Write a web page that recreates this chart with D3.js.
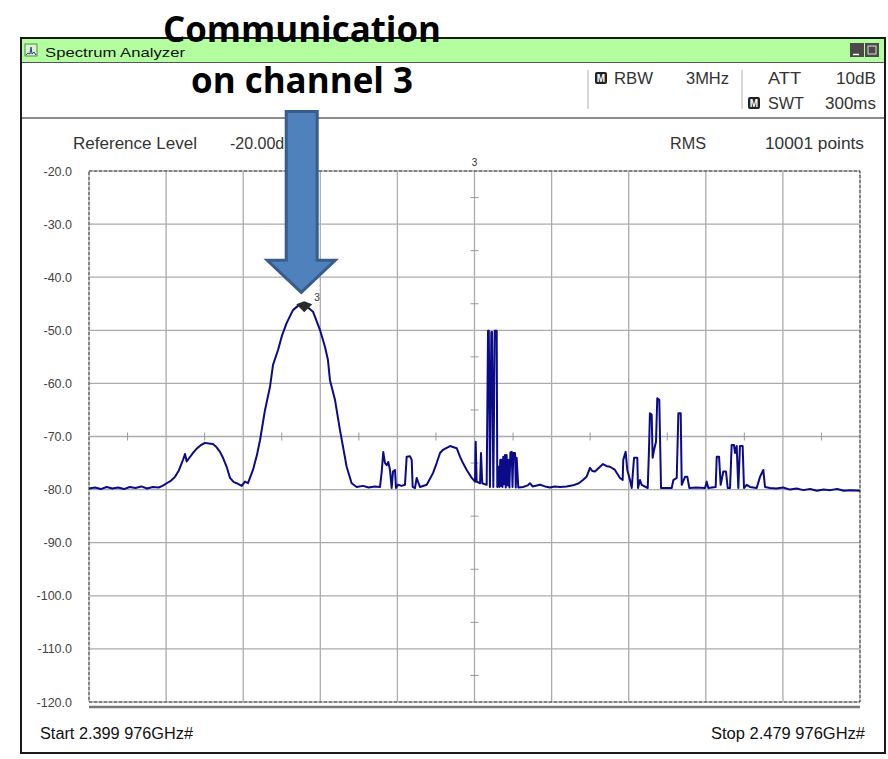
<!DOCTYPE html>
<html><head><meta charset="utf-8">
<script src="https://cdn.jsdelivr.net/npm/d3@7"></script>
<style>body{margin:0;background:#fff;} svg{display:block;font-family:"Liberation Sans",Arial,sans-serif;}</style>
</head><body><svg id="c" width="888" height="759"></svg>
<script>
// ---- Data ----
const traceFreqMHz = [
2399.98,2400.6,2401.2,2401.8,2402.4,2403.0,2403.6,2404.2,2404.8,2405.4,2406.0,2406.6,2407.2,2407.6,2408.04,2408.5,2408.9,2409.3,2409.73,2409.94,
2410.11,2410.4,2410.77,2411.2,2411.6,2412.01,2412.4,2412.84,2413.2,2413.57,2413.9,2414.26,2414.61,2415.0,2415.3,2415.82,2416.16,2416.47,2416.99,2417.4,
2417.72,2418.24,2418.76,2419.07,2419.59,2420.0,2420.49,2421.14,2421.66,2422.1,2422.57,2423.22,2423.94,2424.46,2424.77,2424.98,2425.5,2426.02,2426.71,2427.23,
2427.75,2428.4,2429.0,2429.6,2430.17,2430.35,2430.51,2430.69,2430.87,2431.03,2431.21,2431.38,2431.52,2431.73,2431.83,2432.04,2432.4,2432.76,2432.94,2433.28,
2433.46,2433.56,2433.8,2433.98,2434.11,2434.32,2435.02,2435.67,2436.05,2436.4,2436.71,2437.43,2438.13,2438.47,2438.78,2439.17,2439.69,2440.03,2440.1,2440.2,
2440.55,2440.65,2440.78,2441.24,2441.38,2441.46,2441.58,2441.72,2441.8,2441.93,2442.08,2442.28,2442.34,2442.45,2442.55,2442.65,2442.72,2442.8,2442.88,2442.96,
2443.04,2443.14,2443.22,2443.31,2443.4,2443.5,2443.6,2443.7,2443.84,2443.92,2444.0,2444.18,2444.26,2444.35,2444.52,2445.01,2445.5,2445.73,2446.0,2446.77,
2447.3,2447.81,2448.3,2448.85,2449.54,2450.2,2450.8,2451.23,2451.6,2451.96,2452.2,2452.48,2453.0,2453.31,2453.7,2454.04,2454.55,2455.07,2455.35,2455.41,
2455.66,2455.83,2456.11,2456.29,2456.53,2456.87,2456.94,2457.15,2457.32,2457.95,2458.08,2458.18,2458.36,2458.46,2458.6,2458.81,2458.94,2459.15,2459.33,2460.44,
2460.61,2460.96,2461.13,2461.37,2461.48,2461.82,2462.06,2462.27,2463.0,2463.9,2464.07,2464.24,2465.0,2465.11,2465.35,2465.52,2465.79,2466.07,2466.25,2466.49,
2466.66,2466.9,2467.01,2467.18,2467.35,2467.52,2467.8,2467.94,2468.22,2468.56,2469.26,2469.6,2469.94,2470.12,2470.64,2471.3,2472.0,2472.7,2473.4,2474.1,
2474.8,2475.5,2476.2,2476.9,2477.6,2478.3,2479.0,2479.98
];
const traceLevelDbm = [
-79.8,-79.6,-79.9,-79.5,-79.8,-79.6,-79.9,-79.5,-79.7,-79.4,-79.8,-79.5,-79.6,-79.3,-78.8,-78.3,-77.6,-76.4,-74.4,-73.3,
-74.7,-74.0,-73.1,-72.2,-71.6,-71.2,-71.3,-71.4,-72.0,-72.9,-74.1,-75.7,-77.8,-78.6,-78.8,-79.3,-78.5,-78.8,-76.3,-73.5,
-70.7,-65.0,-60.6,-56.5,-53.7,-51.0,-48.6,-46.2,-45.4,-45.3,-45.5,-46.5,-49.9,-53.1,-55.6,-59.4,-63.1,-68.8,-75.7,-78.8,
-79.5,-79.3,-79.6,-79.4,-79.5,-76.6,-72.9,-75.0,-75.4,-74.8,-76.3,-79.7,-76.6,-76.3,-79.7,-79.1,-79.3,-79.1,-73.8,-73.7,
-74.4,-79.5,-79.7,-77.8,-78.5,-79.5,-79.1,-76.9,-75.0,-73.1,-72.5,-71.8,-72.2,-73.8,-75.0,-76.3,-77.8,-78.5,-71.0,-78.5,
-78.8,-73.1,-78.8,-79.1,-50.1,-50.1,-79.5,-50.3,-50.3,-79.5,-50.1,-50.1,-79.5,-75.7,-79.5,-74.4,-79.3,-74.4,-79.5,-73.8,
-79.0,-73.5,-79.6,-73.5,-79.2,-74.4,-79.6,-73.0,-72.9,-79.5,-73.1,-73.1,-79.6,-74.0,-79.6,-79.5,-79.2,-78.8,-79.4,-79.1,
-79.4,-79.6,-79.4,-79.5,-79.4,-79.2,-78.8,-78.2,-77.6,-75.9,-76.5,-76.6,-75.7,-75.2,-75.6,-75.7,-76.3,-77.8,-78.2,-74.4,
-72.9,-76.3,-78.2,-79.7,-74.0,-74.0,-79.7,-78.2,-79.1,-79.7,-72.6,-65.6,-65.9,-74.0,-72.6,-71.0,-62.8,-63.1,-79.7,-79.7,
-78.2,-77.8,-65.6,-65.6,-79.1,-77.6,-77.6,-79.7,-79.6,-79.7,-78.5,-79.7,-79.5,-73.8,-73.8,-79.1,-76.6,-76.6,-79.7,-79.7,
-71.6,-71.6,-73.1,-71.8,-79.7,-71.8,-71.8,-79.7,-79.1,-79.5,-79.7,-77.6,-76.3,-79.5,-79.7,-79.8,-79.6,-80.0,-79.8,-80.1,
-79.9,-80.2,-80.0,-80.1,-79.9,-80.2,-80.1,-80.2
];
const yTicks = [-20,-30,-40,-50,-60,-70,-80,-90,-100,-110,-120];
const startMHz = 2399.976, stopMHz = 2479.976, divisions = 10;
const markerLabel = "3";
const titleLines = ["Communication", "on channel 3"];
const windowTitle = "Spectrum Analyzer";
const startLabel = "Start 2.399 976GHz#", stopLabel = "Stop 2.479 976GHz#";

// ---- Drawing ----
const svg = d3.select('#c');
const L = 89, R = 860, T = 171, B = 702;
const x = d3.scaleLinear().domain([startMHz, stopMHz]).range([L, R]);
const y = d3.scaleLinear().domain([-20, -120]).range([T, B]);
const divW = (stopMHz - startMHz) / divisions;

// window frame
svg.append('rect').attr('x',21).attr('y',38).attr('width',864).attr('height',715)
  .attr('fill','#fff').attr('stroke','#1a1a1a').attr('stroke-width',2);
svg.append('rect').attr('x',22).attr('y',39).attr('width',862).attr('height',23).attr('fill','#b3ff9f');
svg.append('line').attr('x1',22).attr('x2',884).attr('y1',62.5).attr('y2',62.5).attr('stroke','#555').attr('stroke-width',1);
// icon
const ic = svg.append('g').attr('transform','translate(25,44)');
ic.append('rect').attr('width',12).attr('height',12).attr('fill','#d9f5c8').attr('stroke','#3a6a3a').attr('stroke-width',0.8);
ic.append('polyline').attr('points','1,11 3,9 5,10 6,3 7,10 9,8 11,11').attr('fill','none').attr('stroke','#2a3f8f').attr('stroke-width',1);
svg.append('text').attr('x',45).attr('y',57).attr('font-size',13.5).attr('fill','#111')
  .attr('textLength',140).attr('lengthAdjust','spacingAndGlyphs').text(windowTitle);
// window buttons
svg.append('rect').attr('x',850).attr('y',43).attr('width',14).attr('height',14).attr('fill','#4a4a4a');
svg.append('line').attr('x1',853).attr('x2',859).attr('y1',54.5).attr('y2',54.5).attr('stroke','#fff').attr('stroke-width',1.5);
svg.append('rect').attr('x',865).attr('y',43).attr('width',14).attr('height',14).attr('fill','#4a4a4a');
svg.append('rect').attr('x',868).attr('y',46).attr('width',8).attr('height',8).attr('fill','none').attr('stroke','#ddd').attr('stroke-width',1);

// header
svg.append('line').attr('x1',22).attr('x2',884).attr('y1',118).attr('y2',118).attr('stroke','#8a8a8a').attr('stroke-width',2);
[588,742].forEach(vx => svg.append('line').attr('x1',vx).attr('x2',vx).attr('y1',70).attr('y2',109).attr('stroke','#b0b0b0').attr('stroke-width',1));
function mIcon(mx,my){
  svg.append('rect').attr('x',mx).attr('y',my).attr('width',12).attr('height',12).attr('rx',2).attr('fill','#222');
  svg.append('text').attr('x',mx+6).attr('y',my+10).attr('text-anchor','middle').attr('font-size',10).attr('font-weight','bold').attr('fill','#fff').text('M');
}
mIcon(595,72); mIcon(748,97);
const hdr = (t,hx,hy,anchor,len) => { const e = svg.append('text').attr('x',hx).attr('y',hy).attr('font-size',16).attr('fill','#333').attr('text-anchor',anchor||'start').text(t); if(len) e.attr('textLength',len).attr('lengthAdjust','spacingAndGlyphs'); return e; };
hdr('RBW',614,84,'start',39);
hdr('3MHz',729,84,'end',43);
hdr('ATT',768,84,'start',33);
hdr('10dB',876,84,'end',40);
hdr('SWT',768,109,'start',36);
hdr('300ms',876,109,'end',51);
hdr('Reference Level',73,149,'start',124);
hdr('-20.00dBm',230,149,'start');
hdr('RMS',670,149,'start',36);
hdr('10001 points',864,149,'end',99);

// grid
const g = svg.append('g');
const vGrid = d3.range(divisions+1).map(i => startMHz + i*divW);
g.selectAll('.vg').data(vGrid).join('line').attr('x1',d=>x(d)).attr('x2',d=>x(d)).attr('y1',T).attr('y2',B)
  .attr('stroke','#ababab').attr('stroke-width',1.3);
g.selectAll('.hg').data(yTicks).join('line').attr('x1',L).attr('x2',R).attr('y1',d=>y(d)).attr('y2',d=>y(d))
  .attr('stroke','#ababab').attr('stroke-width',1.3);
// center minor ticks
const midF = d3.range(divisions).map(i => startMHz + (i+0.5)*divW);
g.selectAll('.mt1').data(midF).join('line').attr('x1',d=>x(d)).attr('x2',d=>x(d)).attr('y1',y(-70)-4).attr('y2',y(-70)+4).attr('stroke','#999').attr('stroke-width',1);
const midY = d3.range(10).map(i => -25 - i*10);
const cx = x(startMHz + 5*divW);
g.selectAll('.mt2').data(midY).join('line').attr('x1',cx-4).attr('x2',cx+4).attr('y1',d=>y(d)).attr('y2',d=>y(d)).attr('stroke','#999').attr('stroke-width',1);
// y labels
g.selectAll('.yl').data(yTicks).join('text').attr('x',72).attr('y',d=>y(d)+4.5).attr('text-anchor','end')
  .attr('font-size',12.5).attr('fill','#444').text(d=>d.toFixed(1));
// border
g.append('rect').attr('x',L).attr('y',T).attr('width',R-L).attr('height',B-T).attr('fill','none')
  .attr('stroke','#444').attr('stroke-width',1).attr('stroke-dasharray','3,2');
g.append('line').attr('x1',L).attr('x2',R).attr('y1',707).attr('y2',707).attr('stroke','#777').attr('stroke-width',2.5);
// start/stop
svg.append('text').attr('x',40).attr('y',739).attr('font-size',16).attr('fill','#111').attr('textLength',153).attr('lengthAdjust','spacingAndGlyphs').text(startLabel);
svg.append('text').attr('x',865).attr('y',739).attr('font-size',16).attr('fill','#111').attr('text-anchor','end').attr('textLength',154).attr('lengthAdjust','spacingAndGlyphs').text(stopLabel);

// trace
const pts = traceFreqMHz.map((f,i)=>[f, traceLevelDbm[i]]);
svg.append('path').datum(pts).attr('fill','none').attr('stroke','#0b0b8a').attr('stroke-width',2).attr('stroke-linejoin','round')
  .attr('d', d3.line().x(d=>x(d[0])).y(d=>y(d[1])));

// marker on peak
const peakI = d3.maxIndex(traceLevelDbm);
const mx = x(traceFreqMHz[peakI]) + 2, my = y(traceLevelDbm[peakI]);
svg.append('path').attr('d',`M${mx-8},${my-1} L${mx},${my-4} L${mx+8},${my-1} L${mx},${my+7} Z`).attr('fill','#2a2a2a');
svg.append('text').attr('x',mx+10).attr('y',my-4).attr('font-size',10).attr('fill','#333').text(markerLabel);
svg.append('text').attr('x',cx).attr('y',T-5).attr('text-anchor','middle').attr('font-size',10).attr('fill','#333').text(markerLabel);

// annotation arrow pointing at the marker
const ax = mx - 3, tipY = my - 13;
const arrowPath = `M${ax-15},111.5 L${ax+16},111.5 L${ax+16},${tipY-32} L${ax+34},${tipY-32} L${ax},${tipY} L${ax-34},${tipY-32} L${ax-15},${tipY-32} Z`;
svg.append('path').attr('d',arrowPath).attr('fill','#4f81bd').attr('stroke','#385d8a').attr('stroke-width',3).attr('stroke-linejoin','miter');

// title text
svg.append('text').attr('x',302).attr('y',42).attr('text-anchor','middle').attr('font-family','"Open Sans",sans-serif')
  .attr('font-weight','bold').attr('font-size',36).attr('fill','#000').attr('textLength',278).attr('lengthAdjust','spacingAndGlyphs').text(titleLines[0]);
svg.append('text').attr('x',302).attr('y',93).attr('text-anchor','middle').attr('font-family','"Open Sans",sans-serif')
  .attr('font-weight','bold').attr('font-size',36).attr('fill','#000').attr('textLength',222).attr('lengthAdjust','spacingAndGlyphs').text(titleLines[1]);
</script></body></html>
